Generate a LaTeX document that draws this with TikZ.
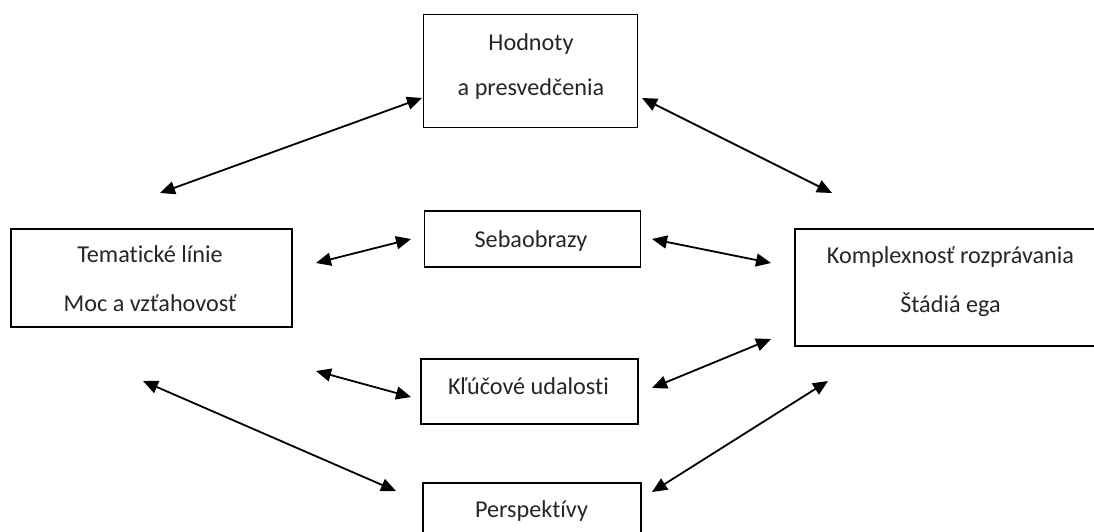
\documentclass[tikz,border=0pt]{standalone}
\usepackage{fontspec}
\setmainfont{Carlito}[Ligatures=NoCommon,Contextuals=NoAlternate]
\usetikzlibrary{arrows.meta}
\definecolor{txt}{HTML}{262626}
\tikzset{
  box/.style={draw=black, line width=1.6pt, fill=white, inner sep=0pt},
  lbl/.style={anchor=base, inner sep=0pt, text=txt, font=\fontsize{24.2}{29}\selectfont},
  link/.style={line width=1.8pt, {Triangle[length=15pt,width=13pt]}-{Triangle[length=15pt,width=13pt]}}
}
\begin{document}
\begin{tikzpicture}[x=1pt,y=-1pt]
\useasboundingbox (0,0) rectangle (1094,531);
\clip (0,0) rectangle (1094,531);
% boxes
\node[box, minimum width=214pt, minimum height=113pt] (hod) at (530.3,71) {};
\node[box, minimum width=281pt, minimum height=98pt] (tem) at (151.5,278) {};
\node[box, minimum width=311pt, minimum height=117pt] (kom) at (950.5,287.5) {};
\node[box, minimum width=216pt, minimum height=56pt] (seb) at (532.5,239) {};
\node[box, minimum width=217pt, minimum height=65pt] (klu) at (529.5,391.5) {};
\node[box, minimum width=218pt, minimum height=58pt] (per) at (532,512) {};
% labels
\node[lbl] (hod1) at (531,50) {Hodnoty};
\node[lbl] (hod2) at (531,95.5) {a presvedčenia};
\node[lbl] (tem1) at (150,262) {Tematické línie};
\node[lbl] (tem2) at (150,311) {Moc a vzťahovosť};
\node[lbl] (kom1) at (950.5,263) {Komplexnosť rozprávania};
\node[lbl] (kom2) at (950.5,312) {Štádiá ega};
\node[lbl] (seb1) at (531,247) {Sebaobrazy};
\node[lbl] (klu1) at (528.5,394) {Kľúčové udalosti};
\node[lbl] (per1) at (531.5,517) {Perspekt\kern0ptívy};
% arrow end points
\coordinate (a1) at (160,193); \coordinate (b1) at (422,98);
\coordinate (a2) at (642,98);  \coordinate (b2) at (832,193);
\coordinate (a3) at (316,263); \coordinate (b3) at (411,239);
\coordinate (a4) at (652,239); \coordinate (b4) at (771,263);
\coordinate (a5) at (316,371); \coordinate (b5) at (411,397);
\coordinate (a6) at (652,388); \coordinate (b6) at (771,339);
\coordinate (a7) at (143,381); \coordinate (b7) at (396,491);
\coordinate (a8) at (652,492); \coordinate (b8) at (828,381);
\draw[link] (a1) -- (b1);
\draw[link] (a2) -- (b2);
\draw[link] (a3) -- (b3);
\draw[link] (a4) -- (b4);
\draw[link] (a5) -- (b5);
\draw[link] (a6) -- (b6);
\draw[link] (a7) -- (b7);
\draw[link] (a8) -- (b8);
\end{tikzpicture}
\end{document}
